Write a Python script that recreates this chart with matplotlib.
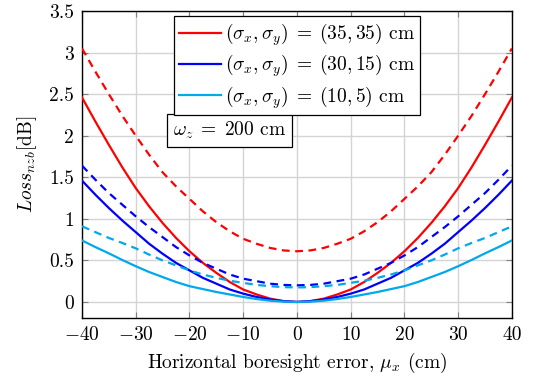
import numpy as np
import matplotlib
matplotlib.use("Agg")
import matplotlib.pyplot as plt

plt.rcParams["mathtext.fontset"] = "cm"
plt.rcParams["font.family"] = "serif"
plt.rcParams["font.serif"] = ["cmr10", "DejaVu Serif"]
plt.rcParams["axes.formatter.use_mathtext"] = True

FS = 14

# horizontal boresight error (cm), every 2.5 cm (curves are symmetric)
half_x = [0, 2.5, 5, 7.5, 10, 12.5, 15, 17.5, 20, 22.5, 25, 27.5, 30, 32.5, 35, 37.5, 40]
red_solid = [0, 0.01, 0.04, 0.09, 0.15, 0.24, 0.35, 0.47, 0.61, 0.77, 0.95, 1.15, 1.37,
             1.62, 1.89, 2.17, 2.46]
red_dash = [0.61, 0.62, 0.65, 0.70, 0.76, 0.85, 0.96, 1.09, 1.24, 1.39, 1.56, 1.77, 2.00,
            2.24, 2.50, 2.77, 3.05]
blue_solid = [0, 0.01, 0.03, 0.06, 0.10, 0.15, 0.22, 0.29, 0.38, 0.47, 0.58, 0.70, 0.84,
              0.98, 1.13, 1.29, 1.46]
blue_dash = [0.20, 0.205, 0.22, 0.25, 0.28, 0.33, 0.40, 0.47, 0.56, 0.66, 0.78, 0.90, 1.03,
             1.17, 1.31, 1.47, 1.64]
cyan_solid = [0, 0.004, 0.015, 0.035, 0.06, 0.09, 0.12, 0.155, 0.19, 0.24, 0.30, 0.36, 0.43,
              0.505, 0.585, 0.66, 0.74]
cyan_dash = [0.175, 0.178, 0.19, 0.205, 0.23, 0.255, 0.29, 0.33, 0.38, 0.44, 0.50, 0.57, 0.645,
             0.71, 0.77, 0.84, 0.91]
labels = [r"$(\sigma_x,\sigma_y)\;=\;(35,35)$ cm",
          r"$(\sigma_x,\sigma_y)\;=\;(30,15)$ cm",
          r"$(\sigma_x,\sigma_y)\;=\;(10,5)$ cm"]
colors = ["#ff0000", "#0000ff", "#00a8ec"]


def mirror(v):
    return np.concatenate([np.array(v[:0:-1]), np.array(v)])


x = np.concatenate([-np.array(half_x[:0:-1]), np.array(half_x)])

fig = plt.figure(figsize=(5.36, 3.81), dpi=100)
ax = fig.add_axes([0.153, 0.166, 0.802, 0.805])

for sol, dash, c, lab in zip([red_solid, blue_solid, cyan_solid],
                             [red_dash, blue_dash, cyan_dash], colors, labels):
    ax.plot(x, mirror(sol), color=c, lw=1.6, label=lab, zorder=3)
    ax.plot(x, mirror(dash), color=c, lw=1.6, ls=(0, (3.5, 2.5)), zorder=3)

ax.set_xlim(-40, 40)
ax.set_ylim(-0.19, 3.5)
ax.set_xticks(np.arange(-40, 41, 10))
ax.set_yticks(np.arange(0, 3.51, 0.5))
ax.set_yticklabels(["0", "0.5", "1", "1.5", "2", "2.5", "3", "3.5"])
ax.set_xticklabels([r"$-40$", r"$-30$", r"$-20$", r"$-10$", "0", "10", "20", "30", "40"])
ax.grid(True, color="#d4d4d4", lw=1.0, zorder=0)
ax.set_axisbelow(True)
ax.tick_params(direction="in", top=True, right=True, length=4, width=0.8,
               color="0.5", labelsize=FS, pad=6)
for s in ax.spines.values():
    s.set_linewidth(1.0)

ax.set_xlabel(r"Horizontal boresight error, $\mu_x$ (cm)", fontsize=FS, labelpad=5)
ax.set_ylabel(r"$Loss_{nzb}$[dB]", fontsize=FS, labelpad=7)

leg = ax.legend(loc="upper center", bbox_to_anchor=(0.5, 0.995), fontsize=FS,
                frameon=True, fancybox=False, edgecolor="black", framealpha=1,
                handlelength=2.2, handletextpad=0.2, borderpad=0.25,
                labelspacing=0.25, borderaxespad=0.2)
leg.get_frame().set_linewidth(0.9)

ax.text(0.212, 0.612, r"$\omega_z\;=\;200$ cm", transform=ax.transAxes, fontsize=FS,
        ha="left", va="center",
        bbox=dict(boxstyle="square,pad=0.3", fc="white", ec="black", lw=0.9), zorder=5)

fig.savefig("out.png", dpi=100)
